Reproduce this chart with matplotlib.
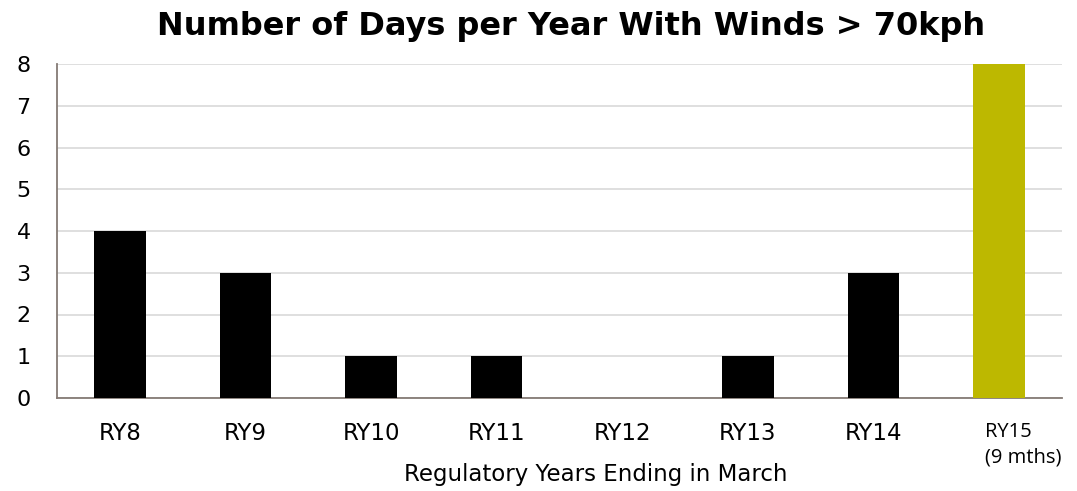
import numpy as np
import matplotlib
matplotlib.use("Agg")
from matplotlib import pyplot as plt
from matplotlib import transforms

# data
years = ["RY8", "RY9", "RY10", "RY11", "RY12", "RY13", "RY14", "RY15\n(9 mths)"]
days = [4, 3, 1, 1, 0, 1, 3, 8]
bar_colors = ["black"] * 7 + ["#bdb800"]

fig = plt.figure(figsize=(10.77, 4.91), dpi=100)
ax = fig.add_axes([57 / 1077, 1 - 398 / 491, 1005 / 1077, 334 / 491])

x = np.arange(len(years))
ax.bar(x, days, width=0.41, color=bar_colors, zorder=3)

ax.set_xlim(-0.5, len(years) - 0.5)
ax.set_ylim(0, 8)
ax.set_yticks(range(0, 9))
ax.yaxis.grid(True, color="#d9d9d9", linewidth=1.2, zorder=0)
ax.tick_params(axis="both", length=0)
ax.tick_params(axis="y", labelsize=16, pad=19)
ax.tick_params(axis="x", labelsize=16.5, pad=17)

for s in ["top", "right"]:
    ax.spines[s].set_visible(False)
for s in ["left", "bottom"]:
    ax.spines[s].set_color("#857b75")
    ax.spines[s].set_linewidth(1.3)

# last label is drawn by hand: it is left aligned and in another font
ax.set_xticks(x)
ax.set_xticklabels(years[:-1] + [""])
trans = transforms.blended_transform_factory(ax.transData, ax.transAxes) + \
    transforms.ScaledTranslation(-0.14, 0, fig.dpi_scale_trans)
ax.text(x[-1], (398 - 422) / 334, years[-1], transform=trans, ha="left", va="top",
        fontsize=14.5, family="Open Sans", linespacing=1.4)

ax.set_xlabel("Regulatory Years Ending in March", fontsize=16.5)
ax.xaxis.label.set_verticalalignment("center")
ax.xaxis.set_label_coords((596 - 57) / 1005, (398 - 474) / 334)

fig.text(571 / 1077, 1 - 27 / 491, "Number of Days per Year With Winds > 70kph",
         ha="center", va="center", fontsize=23, fontweight="bold")

fig.savefig("out.png", dpi=100)
